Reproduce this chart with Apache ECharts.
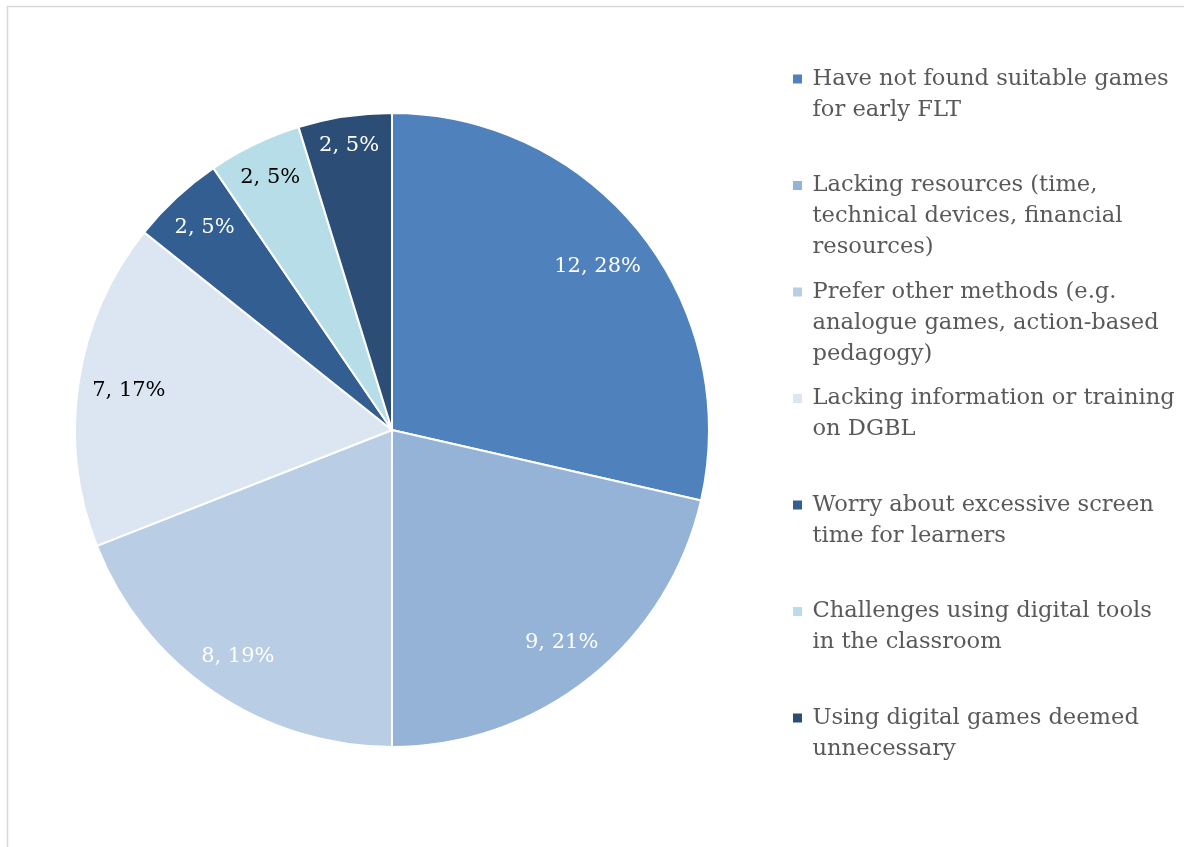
<!DOCTYPE html>
<html>
<head>
<meta charset="utf-8">
<script src="https://cdn.jsdelivr.net/npm/echarts@6/dist/echarts.min.js"></script>
<style>
  html, body { margin: 0; padding: 0; background: #ffffff; }
  #chart { width: 1184px; height: 847px; }
</style>
</head>
<body>
<div id="chart"></div>
<script>
// Reasons for not using digital games in early foreign language teaching
const categories = [
  'Have not found suitable games for early FLT',
  'Lacking resources (time, technical devices, financial resources)',
  'Prefer other methods (e.g. analogue games, action-based pedagogy)',
  'Lacking information or training on DGBL',
  'Worry about excessive screen time for learners',
  'Challenges using digital tools in the classroom',
  'Using digital games deemed unnecessary'
];
// Legend text, broken into lines
const legendLines = [
  ['Have not found suitable games', 'for early FLT'],
  ['Lacking resources (time,', 'technical devices, financial', 'resources)'],
  ['Prefer other methods (e.g.', 'analogue games, action-based', 'pedagogy)'],
  ['Lacking information or training', 'on DGBL'],
  ['Worry about excessive screen', 'time for learners'],
  ['Challenges using digital tools', 'in the classroom'],
  ['Using digital games deemed', 'unnecessary']
];
const counts = [12, 9, 8, 7, 2, 2, 2];
const colors = ['#4F81BD', '#95B3D7', '#B9CDE5', '#DCE6F2', '#335E92', '#B7DEE8', '#2C4D75'];
const labelColors = ['#ffffff', '#ffffff', '#ffffff', '#000000', '#ffffff', '#000000', '#ffffff'];

const FONT = '"DejaVu Serif", serif';
const LINE_H = 31;
const CENTER = [392, 430];
const R = 317;
const LABEL_INSET = 13; // gap between a label's outer corner and the rim

const total = counts.reduce((a, b) => a + b, 0);

const pieData = categories.map((name, i) => ({
  name,
  value: counts[i],
  itemStyle: { color: colors[i] },
  label: { color: labelColors[i] }
}));

// one legend block per category so every entry sits on its own row;
// leading blank lines keep the marker level with the first text line
const legends = categories.map((name, i) => {
  const n = legendLines[i].length;
  const firstLineY = 79 + i * 106.5;
  const text = new Array(n - 1).fill('')
    .concat(legendLines[i].map(s => '\u2009' + s))
    .join('\n');
  return {
    data: [name],
    orient: 'vertical',
    left: 791,
    top: firstLineY - LINE_H / 2 - (n - 1) * LINE_H,
    padding: 0,
    icon: 'rect',
    itemWidth: 11,
    itemHeight: 11,
    selectedMode: false,
    formatter: () => text,
    textStyle: {
      fontFamily: FONT,
      fontSize: 22.6,
      color: '#595959',
      lineHeight: LINE_H
    }
  };
});

// place each value label just inside the rim of its slice
function insideEnd(params) {
  const i = params.dataIndex;
  let before = 0;
  for (let k = 0; k < i; k++) before += counts[k];
  const theta = (before + counts[i] / 2) / total * 2 * Math.PI;
  const ux = Math.sin(theta), uy = -Math.cos(theta);
  const hw = params.labelRect.width / 2, hh = params.labelRect.height / 2;
  const kx = Math.sign(ux) * hw, ky = Math.sign(uy) * hh;
  const rin = R - LABEL_INSET;
  const uk = ux * kx + uy * ky;
  const d = -uk + Math.sqrt(uk * uk - (kx * kx + ky * ky) + rin * rin);
  return {
    x: CENTER[0] + d * ux,
    y: CENTER[1] + d * uy,
    align: 'center',
    verticalAlign: 'middle'
  };
}

const chart = echarts.init(document.getElementById('chart'));
chart.setOption({
  backgroundColor: '#ffffff',
  animation: false,
  color: colors,
  legend: legends,
  graphic: [{
    type: 'rect',
    shape: { x: 7.5, y: 6.5, width: 1300, height: 1000 },
    style: { fill: 'none', stroke: '#d9d9d9', lineWidth: 1.5 },
    silent: true
  }],
  series: [
    {
      type: 'pie',
      center: CENTER,
      radius: [0, R],
      startAngle: 90,
      clockwise: true,
      percentPrecision: 0,
      itemStyle: { borderColor: '#ffffff', borderWidth: 2 },
      label: {
        show: true,
        position: 'inside',
        formatter: '{c}, {d}%',
        fontFamily: FONT,
        fontSize: 21
      },
      labelLine: { show: false },
      labelLayout: insideEnd,
      emphasis: { disabled: true },
      data: pieData
    }
  ]
});
</script>
</body>
</html>
